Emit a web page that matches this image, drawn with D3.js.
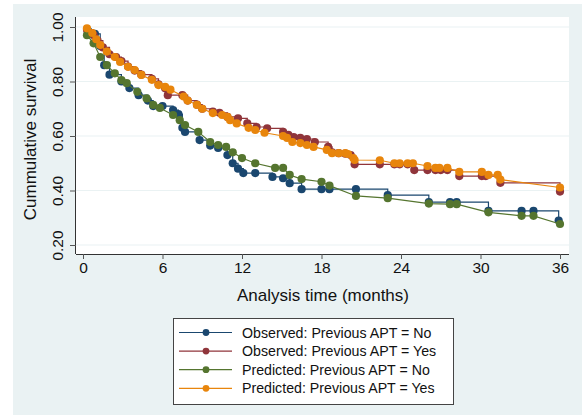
<!DOCTYPE html>
<html>
<head>
<meta charset="utf-8">
<script src="https://cdn.jsdelivr.net/npm/d3@7"></script>
<style>
  body { margin: 0; background: #fff; }
  svg text { font-family: "Liberation Sans", Arial, sans-serif; fill: #111; }
</style>
</head>
<body>
<script>
// observed KM, previous APT = No
let obsNoT = [0.4, 0.9, 1.3, 1.6, 2.0, 2.9, 3.5, 4.2, 4.9, 5.3, 6.0, 6.8, 7.2, 7.5, 7.7, 8.8, 9.6, 10.2, 10.9, 11.3, 11.7, 12.1, 13.0, 14.3, 15.1, 15.6, 16.5, 18.0, 18.6, 20.6, 23.0, 26.1, 27.7, 28.2, 30.6, 33.1, 34.0, 35.9]
let obsNoS = [0.985, 0.975, 0.93, 0.86, 0.825, 0.80, 0.776, 0.75, 0.73, 0.71, 0.71, 0.695, 0.68, 0.63, 0.615, 0.585, 0.565, 0.556, 0.53, 0.50, 0.48, 0.464, 0.464, 0.45, 0.445, 0.427, 0.405, 0.405, 0.405, 0.405, 0.383, 0.357, 0.357, 0.357, 0.325, 0.325, 0.325, 0.29]

// observed KM, previous APT = Yes
let obsYesT = [0.3, 0.8, 1.1, 1.5, 2.0, 2.5, 2.9, 3.4, 3.9, 4.4, 5.2, 5.7, 6.2, 6.4, 7.5, 7.9, 8.6, 9.0, 9.8, 10.3, 10.9, 11.7, 12.4, 13.1, 13.9, 15.1, 15.5, 15.9, 16.4, 16.9, 17.5, 18.5, 18.8, 19.3, 19.8, 20.2, 20.5, 22.4, 23.5, 23.9, 24.5, 25.0, 26.0, 26.6, 27.0, 27.5, 28.4, 30.1, 30.4, 31.5, 36.0]
let obsYesS = [0.99, 0.97, 0.95, 0.925, 0.90, 0.89, 0.875, 0.855, 0.84, 0.825, 0.81, 0.79, 0.775, 0.75, 0.75, 0.73, 0.715, 0.70, 0.69, 0.685, 0.67, 0.665, 0.646, 0.633, 0.628, 0.615, 0.604, 0.596, 0.593, 0.589, 0.578, 0.56, 0.54, 0.537, 0.535, 0.53, 0.496, 0.496, 0.496, 0.496, 0.496, 0.475, 0.475, 0.475, 0.475, 0.475, 0.453, 0.453, 0.453, 0.428, 0.396]

// predicted, previous APT = No
let predNoT = [0.3, 0.8, 1.3, 1.8, 2.4, 2.9, 3.3, 4.1, 4.8, 5.3, 5.8, 6.8, 7.3, 7.7, 8.7, 9.6, 10.2, 10.8, 11.3, 12.0, 13.0, 14.5, 15.1, 15.6, 16.5, 18.0, 18.6, 20.6, 23.0, 26.1, 27.7, 28.2, 30.6, 33.1, 34.0, 36.0]
let predNoS = [0.97, 0.94, 0.89, 0.86, 0.83, 0.805, 0.794, 0.762, 0.738, 0.714, 0.703, 0.677, 0.658, 0.64, 0.615, 0.578, 0.567, 0.56, 0.54, 0.519, 0.50, 0.483, 0.483, 0.457, 0.442, 0.432, 0.418, 0.38, 0.372, 0.352, 0.35, 0.35, 0.32, 0.307, 0.307, 0.277]

// predicted, previous APT = Yes
let predYesT = [0.3, 0.7, 1.0, 1.3, 1.8, 2.4, 2.8, 3.4, 3.9, 4.4, 5.2, 5.7, 6.2, 6.6, 7.6, 7.9, 8.6, 9.0, 9.8, 10.5, 10.9, 11.1, 11.6, 12.5, 13.0, 13.7, 15.1, 15.4, 15.8, 16.4, 16.9, 17.4, 18.4, 18.8, 19.3, 19.8, 20.0, 20.4, 20.5, 22.4, 23.5, 23.9, 24.5, 24.9, 26.0, 26.6, 26.9, 27.5, 28.4, 30.1, 30.6, 31.3, 31.5, 36.0]
let predYesS = [0.995, 0.978, 0.955, 0.934, 0.91, 0.89, 0.872, 0.854, 0.842, 0.824, 0.806, 0.787, 0.78, 0.77, 0.745, 0.73, 0.714, 0.70, 0.684, 0.677, 0.67, 0.658, 0.646, 0.63, 0.622, 0.612, 0.60, 0.593, 0.578, 0.574, 0.567, 0.56, 0.549, 0.537, 0.537, 0.537, 0.534, 0.519, 0.512, 0.511, 0.50, 0.50, 0.50, 0.50, 0.49, 0.483, 0.483, 0.483, 0.468, 0.468, 0.457, 0.457, 0.440, 0.411]

let xTicks = [0, 6, 12, 18, 24, 30, 36]
let yTicks = [0.2, 0.4, 0.6, 0.8, 1.0]
let legendLabels = ['Observed: Previous APT = No', 'Observed: Previous APT = Yes', 'Predicted: Previous APT = No', 'Predicted: Previous APT = Yes']

let colors = ['#1a476f', '#90353b', '#55752f', '#e8850c']

let width = 582
let height = 415

let svg = d3.select('body').append('svg')
    .attr('width', width)
    .attr('height', height)

// outer graph region
svg.append('rect')
    .attr('x', 13).attr('y', 4)
    .attr('width', width - 13).attr('height', height - 4)
    .attr('fill', '#eaf2f3')

// plot region
let plot = {left: 76, right: 569, top: 17, bottom: 254}
svg.append('rect')
    .attr('x', plot.left).attr('y', plot.top)
    .attr('width', plot.right - plot.left).attr('height', plot.bottom - plot.top)
    .attr('fill', '#fff')

let x = d3.scaleLinear().domain([0, 36]).range([83, 560])
let y = d3.scaleLinear().domain([0.2, 1.0]).range([245, 27])

// grid
svg.append('g').selectAll('line')
    .data(yTicks)
    .enter().append('line')
    .attr('x1', plot.left).attr('x2', plot.right)
    .attr('y1', d => y(d)).attr('y2', d => y(d))
    .attr('stroke', '#eaf2f3')
    .attr('stroke-width', 1.2)

// axes
let xAxis = svg.append('g')
    .attr('transform', 'translate(0,' + plot.bottom + ')')
    .call(d3.axisBottom(x).tickValues(xTicks).tickSize(5).tickSizeOuter(0).tickPadding(3))
xAxis.select('.domain').attr('d', 'M' + plot.left + ',0.5H' + plot.right).attr('stroke', '#333')
xAxis.selectAll('.tick line').attr('stroke', '#555')
xAxis.selectAll('text')
    .style('font-family', '"Liberation Sans", Arial, sans-serif')
    .style('font-size', '15.5px')
    .attr('fill', '#111')

let yAxis = svg.append('g')
    .attr('transform', 'translate(' + plot.left + ',0)')
    .call(d3.axisLeft(y).tickValues(yTicks).tickSize(6).tickSizeOuter(0).tickFormat(d3.format('.2f')))
yAxis.select('.domain').attr('d', 'M-0.5,' + plot.top + 'V' + plot.bottom).attr('stroke', '#333')
yAxis.selectAll('.tick line').attr('stroke', '#555')
yAxis.selectAll('text')
    .attr('x', null).attr('dy', null)
    .attr('text-anchor', 'middle')
    .attr('transform', 'translate(-13,0) rotate(-90)')
    .style('font-family', '"Liberation Sans", Arial, sans-serif')
    .style('font-size', '15.5px')
    .attr('fill', '#111')

// axis titles
svg.append('text')
    .attr('x', (plot.left + plot.right) / 2 + 0.5)
    .attr('y', 301)
    .attr('text-anchor', 'middle')
    .style('font-size', '17px')
    .text('Analysis time (months)')

svg.append('text')
    .attr('transform', 'translate(36,' + ((plot.top + plot.bottom) / 2 + 4) + ') rotate(-90)')
    .attr('text-anchor', 'middle')
    .style('font-size', '17px')
    .text('Cummulative survival')

// series
let series = [
    {t: obsNoT, s: obsNoS, curve: d3.curveStepAfter},
    {t: obsYesT, s: obsYesS, curve: d3.curveStepAfter},
    {t: predNoT, s: predNoS, curve: d3.curveLinear},
    {t: predYesT, s: predYesS, curve: d3.curveLinear}
]

series.forEach((sr, i) => {
    let pts = sr.t.map((t, j) => [t, sr.s[j]])
    let line = d3.line()
        .x(d => x(d[0]))
        .y(d => y(d[1]))
        .curve(sr.curve)
    let g = svg.append('g')
    g.append('path')
        .attr('d', line(pts))
        .attr('fill', 'none')
        .attr('stroke', colors[i])
        .attr('stroke-width', 1.2)
    g.selectAll('circle')
        .data(pts)
        .enter().append('circle')
        .attr('cx', d => x(d[0]))
        .attr('cy', d => y(d[1]))
        .attr('r', 4.1)
        .attr('fill', colors[i])
})

// legend
let legend = svg.append('g')
legend.append('rect')
    .attr('x', 173.5).attr('y', 318.5)
    .attr('width', 280).attr('height', 86)
    .attr('fill', '#fff')
    .attr('stroke', '#444')
    .attr('stroke-width', 1)

let rows = legend.selectAll('.row')
    .data(legendLabels)
    .enter().append('g')
    .attr('class', 'row')
    .attr('transform', (d, i) => 'translate(0,' + (332.5 + i * 18.6) + ')')

rows.append('line')
    .attr('x1', 179).attr('x2', 232)
    .attr('stroke', (d, i) => colors[i])
    .attr('stroke-width', 1.2)
rows.append('circle')
    .attr('cx', 206).attr('r', 3.4)
    .attr('fill', (d, i) => colors[i])
rows.append('text')
    .attr('x', 242)
    .attr('y', 5)
    .style('font-size', '14.2px')
    .text(d => d)
</script>
</body>
</html>
